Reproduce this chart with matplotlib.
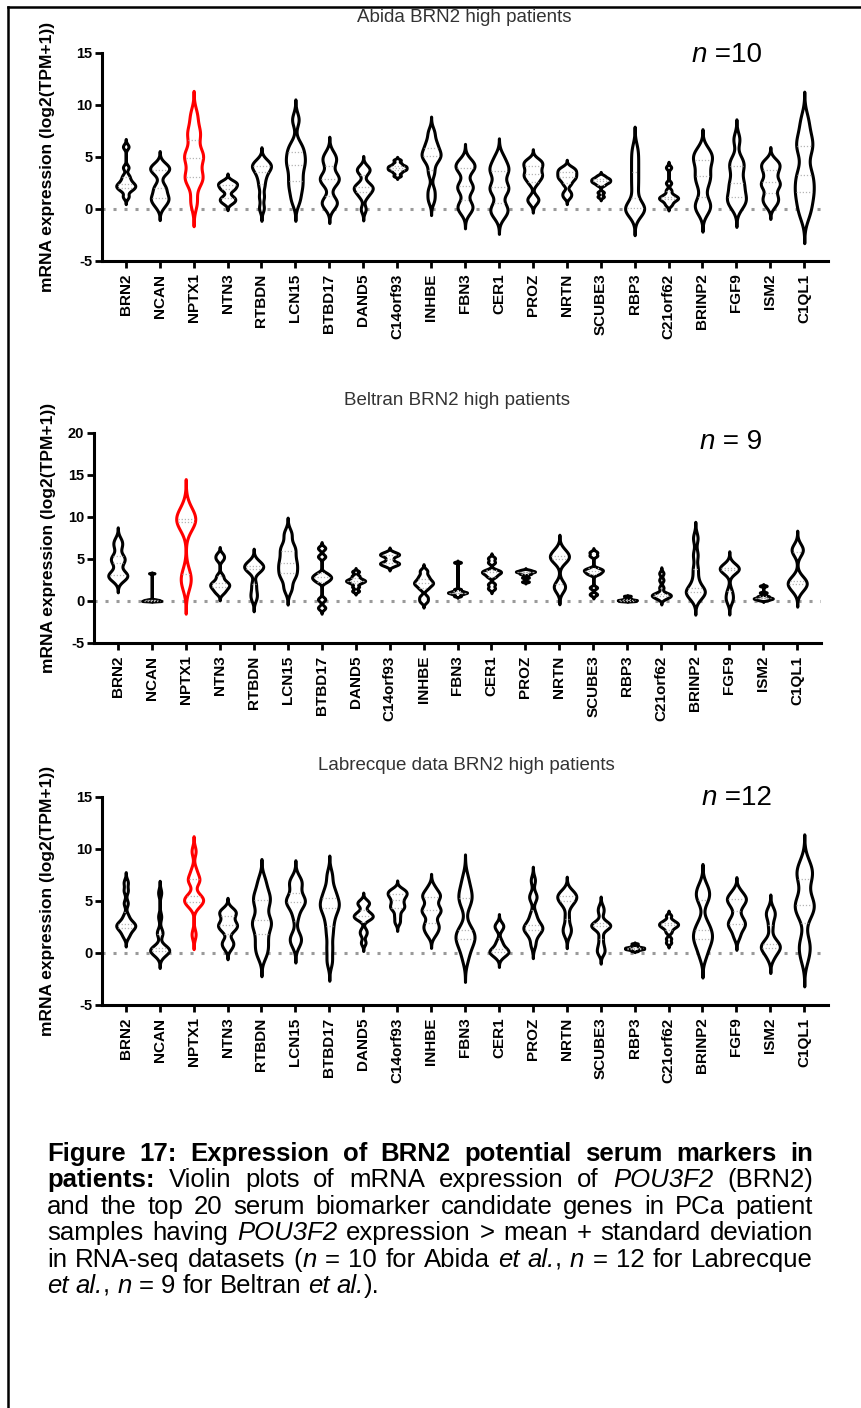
import numpy as np
import matplotlib
matplotlib.use("Agg")
import matplotlib.pyplot as plt
from matplotlib.lines import Line2D

plt.rcParams["font.family"] = ["Liberation Sans", "DejaVu Sans"]
plt.rcParams["axes.unicode_minus"] = False

genes = ["BRN2", "NCAN", "NPTX1", "NTN3", "RTBDN", "LCN15", "BTBD17", "DAND5",
         "C14orf93", "INHBE", "FBN3", "CER1", "PROZ", "NRTN", "SCUBE3", "RBP3",
         "C21orf62", "BRINP2", "FGF9", "ISM2", "C1QL1"]

# log2(TPM+1) per patient, one list per gene (same order as genes)
abida = [
    [1.2, 1.8, 2.0, 2.2, 2.3, 2.5, 2.8, 3.2, 4.0, 6.0],
    [0.3, 0.8, 1.0, 1.3, 1.9, 2.2, 3.5, 3.8, 4.0, 4.2],
    [0.7, 2.6, 3.0, 3.4, 4.8, 5.1, 5.4, 7.0, 7.5, 9.0],
    [0.6, 0.8, 1.0, 1.2, 1.8, 2.0, 2.2, 2.4, 2.5, 2.7],
    [0.1, 1.2, 2.2, 2.9, 3.4, 3.8, 4.0, 4.2, 4.4, 4.7],
    [0.8, 1.8, 2.5, 3.2, 4.0, 4.5, 5.0, 5.6, 6.2, 8.6],
    [0.3, 0.6, 0.9, 2.4, 2.8, 3.0, 3.3, 4.4, 4.8, 5.3],
    [0.0, 1.2, 1.6, 1.9, 2.0, 2.2, 2.5, 3.5, 3.8, 4.0],
    [3.2, 3.5, 3.7, 3.8, 3.9, 4.0, 4.1, 4.2, 4.4, 4.7],
    [0.9, 1.8, 3.5, 4.5, 5.0, 5.2, 5.5, 6.0, 6.5, 7.4],
    [-0.2, 0.2, 0.5, 1.8, 2.1, 2.4, 3.7, 4.0, 4.3, 4.6],
    [-0.6, -0.1, 0.3, 1.6, 2.0, 2.3, 3.4, 3.8, 4.2, 5.0],
    [0.7, 1.1, 2.5, 3.0, 3.2, 3.5, 3.9, 4.2, 4.5, 4.7],
    [1.2, 1.6, 2.4, 2.8, 3.0, 3.2, 3.4, 3.6, 3.8, 4.0],
    [1.2, 1.6, 2.3, 2.5, 2.6, 2.7, 2.8, 2.9, 3.0, 3.2],
    [-0.4, -0.1, 0.0, 0.2, 0.4, 1.8, 2.8, 3.8, 4.8, 5.8],
    [0.4, 0.7, 0.9, 1.0, 1.1, 1.2, 1.4, 1.8, 2.5, 4.0],
    [-0.2, 0.3, 0.8, 2.2, 3.0, 3.4, 4.3, 4.8, 5.2, 5.7],
    [0.2, 0.8, 1.0, 1.6, 2.3, 2.7, 3.7, 4.3, 4.8, 6.7],
    [0.4, 0.9, 1.3, 2.1, 2.4, 2.7, 3.4, 3.9, 4.3, 4.6],
    [-0.5, 0.5, 1.5, 2.0, 3.0, 3.6, 5.5, 6.2, 7.0, 8.5],
]

beltran = [
    [2.6, 2.9, 3.1, 3.4, 4.5, 5.0, 5.3, 6.5, 7.2],
    [0.0, 0.0, 0.0, 0.05, 0.1, 0.1, 0.15, 0.2, 3.3],
    [2.0, 2.6, 3.2, 9.0, 9.4, 9.6, 9.8, 10.2, 11.0],
    [1.0, 1.4, 1.7, 1.9, 2.1, 2.4, 3.0, 5.0, 5.5],
    [0.3, 1.0, 2.0, 3.6, 3.8, 4.0, 4.2, 4.4, 4.7],
    [1.5, 2.8, 3.3, 4.0, 4.5, 5.2, 6.0, 6.6, 8.0],
    [-0.8, 0.2, 2.3, 2.6, 2.8, 3.0, 3.3, 5.3, 6.3],
    [1.2, 1.7, 2.1, 2.3, 2.4, 2.5, 2.7, 3.0, 3.5],
    [4.2, 4.4, 4.5, 4.6, 5.0, 5.4, 5.5, 5.6, 5.8],
    [0.0, 0.5, 1.5, 1.9, 2.1, 2.3, 2.6, 3.0, 3.6],
    [0.6, 0.8, 0.9, 1.0, 1.0, 1.1, 1.2, 1.4, 4.6],
    [1.5, 2.0, 2.9, 3.2, 3.4, 3.5, 3.7, 4.6, 5.1],
    [2.3, 2.8, 3.2, 3.3, 3.4, 3.5, 3.5, 3.6, 3.7],
    [1.4, 1.7, 2.0, 4.7, 5.0, 5.2, 5.4, 5.7, 6.1],
    [0.8, 1.6, 3.2, 3.4, 3.6, 3.7, 3.9, 5.4, 5.8],
    [0.0, 0.0, 0.05, 0.1, 0.1, 0.15, 0.2, 0.3, 0.6],
    [0.3, 0.5, 0.6, 0.7, 0.8, 0.9, 1.6, 2.5, 3.3],
    [0.3, 0.8, 1.1, 1.3, 1.5, 2.5, 3.8, 5.5, 7.5],
    [0.0, 0.5, 1.2, 3.5, 3.7, 3.8, 3.9, 4.0, 4.3],
    [0.1, 0.2, 0.3, 0.3, 0.4, 0.5, 0.6, 1.0, 1.8],
    [1.3, 1.7, 2.0, 2.2, 2.4, 2.8, 5.8, 6.1, 6.4],
]

labrecque = [
    [1.6, 2.0, 2.3, 2.5, 2.6, 2.7, 2.9, 3.1, 3.6, 4.8, 6.0, 6.8],
    [-0.3, 0.0, 0.1, 0.2, 0.3, 0.4, 0.5, 0.7, 1.8, 2.1, 3.5, 5.8],
    [1.8, 4.5, 4.8, 5.0, 5.2, 5.3, 5.6, 6.8, 7.0, 7.3, 8.0, 9.8],
    [0.5, 0.9, 1.2, 2.1, 2.4, 2.6, 2.8, 3.0, 3.5, 3.8, 4.0, 4.2],
    [-0.2, 0.5, 1.2, 2.0, 2.7, 3.0, 3.3, 4.4, 5.0, 5.4, 6.0, 7.0],
    [0.9, 1.3, 1.7, 3.5, 4.5, 4.8, 5.0, 5.2, 5.5, 6.5, 6.8, 7.1],
    [-0.8, 0.5, 1.8, 2.8, 3.6, 4.2, 4.5, 4.8, 5.2, 5.7, 6.3, 7.5],
    [1.0, 1.8, 2.2, 3.2, 3.4, 3.5, 3.6, 3.8, 4.0, 4.6, 4.8, 5.0],
    [3.0, 3.6, 4.2, 4.4, 4.6, 4.9, 5.2, 5.5, 5.6, 5.8, 6.0, 6.1],
    [1.8, 2.3, 2.6, 3.0, 3.8, 4.0, 4.2, 4.6, 5.3, 5.5, 5.7, 6.3],
    [-0.5, 0.5, 1.0, 1.4, 1.7, 2.0, 2.4, 4.6, 5.2, 5.6, 6.2, 7.2],
    [-0.4, -0.1, 0.0, 0.1, 0.2, 0.3, 0.5, 0.8, 1.2, 2.3, 2.6, 2.8],
    [0.8, 1.6, 2.0, 2.3, 2.4, 2.5, 2.8, 3.2, 3.8, 5.2, 5.6, 7.0],
    [1.8, 2.2, 2.6, 3.5, 4.5, 4.9, 5.1, 5.3, 5.4, 5.6, 5.8, 6.0],
    [0.0, 0.3, 0.8, 1.5, 2.3, 2.5, 2.6, 2.7, 2.8, 3.0, 3.9, 4.4],
    [0.2, 0.3, 0.35, 0.4, 0.4, 0.45, 0.5, 0.5, 0.55, 0.6, 0.7, 0.9],
    [1.0, 1.4, 2.0, 2.3, 2.5, 2.6, 2.7, 2.8, 2.9, 3.0, 3.2, 3.6],
    [-0.3, 0.5, 1.0, 1.4, 1.7, 2.0, 2.5, 3.0, 5.0, 5.5, 5.9, 6.5],
    [1.6, 2.3, 2.6, 2.9, 3.1, 3.6, 4.4, 4.8, 5.1, 5.3, 5.5, 6.0],
    [-0.5, 0.0, 0.3, 0.5, 0.6, 0.8, 1.0, 1.4, 2.5, 3.4, 3.8, 4.2],
    [-0.5, 0.5, 1.2, 3.5, 4.2, 4.5, 4.8, 5.5, 7.0, 7.5, 8.0, 8.7],
]

titles = ["Abida BRN2 high patients", "Beltran BRN2 high patients",
          "Labrecque data BRN2 high patients"]
n_labels = ["10", "9", "12"]
highlight = "NPTX1"

W, H = 861, 1408
fig = plt.figure(figsize=(W / 100, H / 100), dpi=100)


def fx(px):
    return px / W


def fy(py):
    return 1 - py / H


def kde(vals, adjust=0.55, cut=3.0, npts=900):
    v = np.asarray(vals, float)
    q1, q3 = np.percentile(v, [25, 75])
    sd = v.std(ddof=1)
    spread = min(sd, (q3 - q1) / 1.34) if q3 > q1 else sd
    h = adjust * 0.9 * spread * v.size ** -0.2
    y = np.linspace(v.min() - cut * h, v.max() + cut * h, npts)
    d = np.exp(-0.5 * ((y[:, None] - v[None, :]) / h) ** 2).sum(axis=1)
    return y, d / d.max()


def violins(ax, data, half=0.28):
    for i, vals in enumerate(data):
        col = "red" if genes[i] == highlight else "black"
        y, d = kde(vals)
        ax.fill_betweenx(y, i - d * half, i + d * half, facecolor="white",
                         edgecolor=col, linewidth=2.2, joinstyle="round",
                         zorder=3)
        for q in np.percentile(vals, [25, 50, 75]):
            w = np.interp(q, y, d) * half * 0.85
            ax.plot([i - w, i + w], [q, q], color="#b5b5b5", lw=0.9,
                    ls=(0, (1, 1.5)), zorder=4)


# axes boxes in pixels: left, top, right, bottom
boxes = [(102, 53, 828, 261), (94, 433, 821, 643), (102, 797, 828, 1005)]
ytops = [15, 20, 15]
title_xy = [(464, 18), (457, 400), (466, 765)]
n_xy = [(692, 55), (700, 442), (702, 798)]
ylab_x = [48, 49, 48]

for k, data in enumerate([abida, beltran, labrecque]):
    l, t, r, b = boxes[k]
    ax = fig.add_axes([fx(l), fy(b), (r - l) / W, (b - t) / H])
    ax.axhline(0, color="#9a9a9a", lw=2.2, ls=(0, (1, 2.6)), zorder=1)
    violins(ax, data)
    ax.set_xlim(-0.7, 20.7)
    ax.set_ylim(-5, ytops[k])
    ax.set_yticks(np.arange(-5, ytops[k] + 1, 5))
    ax.set_xticks(range(len(genes)))
    ax.set_xticklabels(genes, rotation=90, fontsize=11, fontweight="bold")
    for lab in ax.get_yticklabels():
        lab.set_fontweight("bold")
    ax.tick_params(axis="y", labelsize=10.5, width=2, length=5, pad=2)
    ax.tick_params(axis="x", width=2, length=5, pad=4)
    for s in ["top", "right"]:
        ax.spines[s].set_visible(False)
    for s in ["left", "bottom"]:
        ax.spines[s].set_linewidth(2.2)
    ax.patch.set_alpha(0)

    cx = (t + b) / 2
    fig.text(fx(ylab_x[k]), fy(cx), "mRNA expression (log2(TPM+1))",
             rotation=90, ha="center", va="center", fontsize=12.5,
             fontweight="bold")
    fig.text(fx(title_xy[k][0]), fy(title_xy[k][1]), titles[k], ha="center",
             va="center", fontsize=13.5, color="#333333")
    nx, ny = n_xy[k]
    fig.text(fx(nx), fy(ny), "n", style="italic", fontsize=20, ha="left",
             va="center")
    eq = " =" if len(n_labels[k]) > 1 else " = "
    fig.text(fx(nx + 15), fy(ny), eq + n_labels[k], fontsize=20, ha="left",
             va="center")

# frame of the page
fig.add_artist(Line2D([fx(8), fx(8)], [fy(7), 0], color="black", lw=1.8))
fig.add_artist(Line2D([fx(8), 1], [fy(7), fy(7)], color="black", lw=1.8))

# caption, justified line by line
caption = [
    [("Figure 17: Expression of BRN2 potential serum markers in", "b")],
    [("patients:", "b"), (" Violin plots of mRNA expression of ", "r"),
     ("POU3F2", "i"), (" (BRN2)", "r")],
    [("and the top 20 serum biomarker candidate genes in PCa patient", "r")],
    [("samples having ", "r"), ("POU3F2", "i"),
     (" expression > mean + standard deviation", "r")],
    [("in RNA-seq datasets (", "r"), ("n", "i"), (" = 10 for Abida ", "r"),
     ("et al.", "i"), (", ", "r"), ("n", "i"), (" = 12 for Labrecque", "r")],
    [("et al.", "i"), (", ", "r"), ("n", "i"), (" = 9 for Beltran ", "r"),
     ("et al.", "i"), (").", "r")],
]
cap_size = 18.5
cap_x0, cap_x1 = 47, 813
cap_base = [1161, 1187, 1214, 1240, 1267, 1293]
styles = {"r": dict(), "b": dict(fontweight="bold"), "i": dict(style="italic")}
renderer = fig.canvas.get_renderer()


def words_of(segs):
    words = [[]]
    for text, st in segs:
        for j, part in enumerate(text.split(" ")):
            if j > 0:
                words.append([])
            if part:
                words[-1].append((part, st))
    return [w for w in words if w]


def width_of(s, st):
    t = fig.text(0, 0, s, fontsize=cap_size, **styles[st])
    w = t.get_window_extent(renderer).width
    t.remove()
    return w


space = width_of("a a", "r") - width_of("aa", "r")
for li, segs in enumerate(caption):
    words = words_of(segs)
    widths = [[width_of(p, st) for p, st in w] for w in words]
    total = sum(sum(w) for w in widths)
    last = li == len(caption) - 1
    gap = space if last else (cap_x1 - cap_x0 - total) / (len(words) - 1)
    x = cap_x0
    for w, ws in zip(words, widths):
        for (p, st), pw in zip(w, ws):
            fig.text(fx(x), fy(cap_base[li]), p, fontsize=cap_size,
                     ha="left", va="baseline", **styles[st])
            x += pw
        x += gap

fig.savefig("out.png", dpi=100)
